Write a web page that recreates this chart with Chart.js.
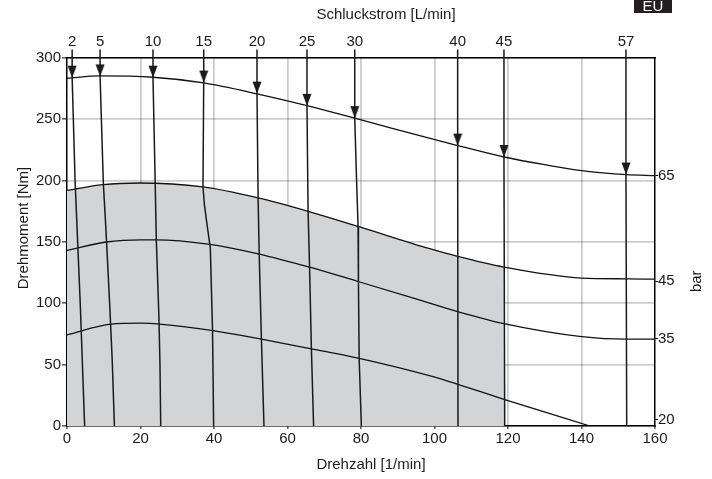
<!DOCTYPE html>
<html><head><meta charset="utf-8">
<script src="https://cdn.jsdelivr.net/npm/chart.js@4.4.1/dist/chart.umd.min.js"></script>
<style>html,body{margin:0;padding:0;background:#fff;}canvas{display:block;}</style>
</head><body>
<canvas id="c" width="712" height="479"></canvas>
<script>
// ---- axes ----
const speedRange = [0, 160];      // Drehzahl [1/min]
const speedStep = 20;
const torqueRange = [0, 300];     // Drehmoment [Nm]
const torqueStep = 50;

// ---- pressure curves (bar) : torque vs speed ----
const p65X = [0, 8.9, 23.4, 37.2, 51.7, 65.3, 78.3, 106.3, 118.9, 130, 140, 152.3, 160];
const p65Y = [283.5, 285.4, 284.3, 279.7, 270.8, 261.2, 250.9, 228.6, 219.3, 213, 208.2, 204.9, 204.1];
const p45X = [0, 9.75, 19.7, 37, 52, 65.6, 79.2, 98.7, 106.3, 118.9, 140, 152.3, 160];
const p45Y = [192, 196.7, 198.1, 194.9, 185.9, 175, 162.7, 144.5, 138.2, 129.5, 120.6, 120, 119.7];
const p35X = [0, 10.7, 20.2, 24.3, 38.4, 52, 66, 79.2, 98.7, 106.3, 118.9, 140, 152.3, 160];
const p35Y = [143.1, 150, 151.8, 151.8, 148.3, 140.4, 129.5, 117.8, 100.2, 93.3, 83.5, 72.9, 70.8, 70.8];
const p20X = [0, 12, 20.2, 25.2, 39.7, 52.9, 66.5, 79.2, 99.6, 106.3, 118.9, 142.3];
const p20Y = [74.3, 83, 83.8, 83, 77.8, 70.8, 62.9, 55.3, 40.2, 34, 21.8, 0];

// right-hand pressure labels
const barLabels = ['65', '45', '35', '20'];
const barTickValues = [204, 118, 71, 5];

// shaded (continuous) region: below 45 bar curve up to this speed
const shadeLimit = 118.9;

// ---- flow lines (Schluckstrom [L/min]) ----
const flowLabels = ['2', '5', '10', '15', '20', '25', '30', '40', '45', '57'];
const flowX = [
  [1.4, 1.4, 2.2, 2.9, 3.6, 4.2, 4.8],
  [9.0, 9.0, 9.9, 10.6, 11.6, 12.3, 12.9],
  [23.4, 23.4, 24.0, 24.3, 25.0, 25.3, 25.5],
  [37.2, 37.2, 37.0, 37.4, 38.3, 39.0, 39.6, 39.9],
  [51.7, 51.7, 52.0, 52.3, 52.9, 53.6],
  [65.3, 65.3, 65.6, 66.0, 66.5, 67.1],
  [78.3, 78.3, 78.8, 79.2, 79.3, 79.5, 80.1],
  [106.3, 106.3, 106.4],
  [118.9, 118.9, 119.1],
  [152.1, 152.1, 152.3]
];
const flowY = [
  [307, 284, 200, 150, 100, 50, 0],
  [307, 285, 197, 160, 100, 54, 0],
  [307, 284, 198, 152, 90, 50, 0],
  [307, 280, 195, 180, 160, 145, 78, 0],
  [307, 271, 186, 140, 71, 0],
  [307, 261, 175, 130, 63, 0],
  [307, 251, 200, 163, 118, 55, 0],
  [307, 228.6, 0],
  [307, 219.3, 0],
  [307, 205, 0]
];
const flowTopX = flowX.map(a => a[0]);

// ---- helpers ----
const pts = (xs, ys) => xs.map((x, i) => ({x: x, y: ys[i]}));
const FONT = {family: "'Liberation Sans', Arial, sans-serif", size: 15};
const TXT = '#1a1a1a';

// arrow head image (tip at the image centre)
const arrow = document.createElement('canvas');
arrow.width = 10; arrow.height = 26;
(function () {
  const g = arrow.getContext('2d');
  g.fillStyle = '#1a1a1a';
  g.beginPath(); g.moveTo(0.5, 1); g.lineTo(9.5, 1); g.lineTo(5, 13); g.closePath(); g.fill();
})();

const datasets = [];
datasets.push({
  data: pts(p45X.filter(x => x <= shadeLimit), p45Y.filter((y, i) => p45X[i] <= shadeLimit)),
  fill: 'origin', backgroundColor: '#d3d4d6', borderWidth: 0, pointRadius: 0,
  cubicInterpolationMode: 'monotone', order: 10
});
[[p65X, p65Y], [p45X, p45Y], [p35X, p35Y], [p20X, p20Y]].forEach(([xs, ys]) => {
  datasets.push({
    data: pts(xs, ys), borderColor: '#111', borderWidth: 1.3, pointRadius: 0,
    fill: false, cubicInterpolationMode: 'monotone', order: 2
  });
});
flowX.forEach((xs, k) => {
  datasets.push({
    data: pts(xs, flowY[k]), borderColor: '#1a1a1a', borderWidth: 1.5, fill: false,
    tension: 0, clip: false, order: 1,
    pointStyle: arrow,
    pointRadius: ctx => (ctx.dataIndex === 1 ? 5 : 0)
  });
});

const textPlugin = {
  id: 'texts',
  afterDraw(chart) {
    const c = chart.ctx, a = chart.chartArea;
    c.save();
    c.fillStyle = TXT;
    c.font = "15px 'Liberation Sans', Arial, sans-serif";
    c.textAlign = 'center'; c.textBaseline = 'middle';
    c.fillText('Schluckstrom [L/min]', 386, 15);
    c.fillText('Drehzahl [1/min]', 371, 465);
    c.save(); c.translate(23.5, 228); c.rotate(-Math.PI / 2);
    c.fillText('Drehmoment [Nm]', 0, 0); c.restore();
    const yb = chart.scales.y2.getPixelForValue(barTickValues[1]);
    c.save(); c.translate(697, yb); c.rotate(-Math.PI / 2);
    c.fillText('bar', 0, 0); c.restore();
    // EU badge
    c.fillStyle = '#231f20';
    c.fillRect(634, 0, 38, 13);
    c.fillStyle = '#fff';
    c.textBaseline = 'alphabetic';
    c.fillText('EU', 653, 10.5);
    c.restore();
  }
};

const gridColor = 'rgba(0,0,0,0.2)';
new Chart(document.getElementById('c'), {
  type: 'line',
  data: {datasets},
  plugins: [textPlugin],
  options: {
    responsive: false, animation: false,
    layout: {padding: 0},
    plugins: {legend: {display: false}, tooltip: {enabled: false}},
    scales: {
      x: {
        type: 'linear', position: 'bottom', min: speedRange[0], max: speedRange[1], z: 1,
        ticks: {stepSize: speedStep, font: FONT, color: TXT, padding: 1, maxRotation: 0},
        grid: {color: gridColor, lineWidth: 1.8, tickColor: '#000', tickLength: 3, tickWidth: 1},
        border: {display: true, color: '#000', width: 1.4},
        afterFit: s => { s.height = 53; }
      },
      x2: {
        type: 'linear', position: 'top', min: speedRange[0], max: speedRange[1], z: 1,
        afterBuildTicks: s => { s.ticks = flowTopX.map(v => ({value: v})); },
        ticks: {autoSkip: false, font: FONT, color: TXT, padding: 7, maxRotation: 0,
                callback: (v, i) => flowLabels[i]},
        grid: {display: false, drawTicks: false},
        border: {display: true, color: '#000', width: 1.4},
        afterFit: s => { s.height = 58; }
      },
      y: {
        type: 'linear', position: 'left', min: torqueRange[0], max: torqueRange[1], z: 1,
        ticks: {stepSize: torqueStep, font: FONT, color: TXT, padding: 1},
        grid: {color: gridColor, lineWidth: 1.8, tickColor: '#000', tickLength: 5, tickWidth: 1},
        border: {display: true, color: '#000', width: 1.4},
        afterFit: s => { s.width = 67; }
      },
      y2: {
        type: 'linear', position: 'right', min: torqueRange[0], max: torqueRange[1], z: 1,
        afterBuildTicks: s => { s.ticks = barTickValues.map(v => ({value: v})); },
        ticks: {autoSkip: false, font: FONT, color: TXT, padding: 0,
                callback: (v, i) => barLabels[i]},
        grid: {display: true, drawOnChartArea: false, drawTicks: true, tickLength: 3, tickColor: '#000', tickWidth: 1},
        border: {display: true, color: '#000', width: 1.4},
        afterFit: s => { s.width = 57; }
      }
    }
  }
});
</script>
</body></html>
